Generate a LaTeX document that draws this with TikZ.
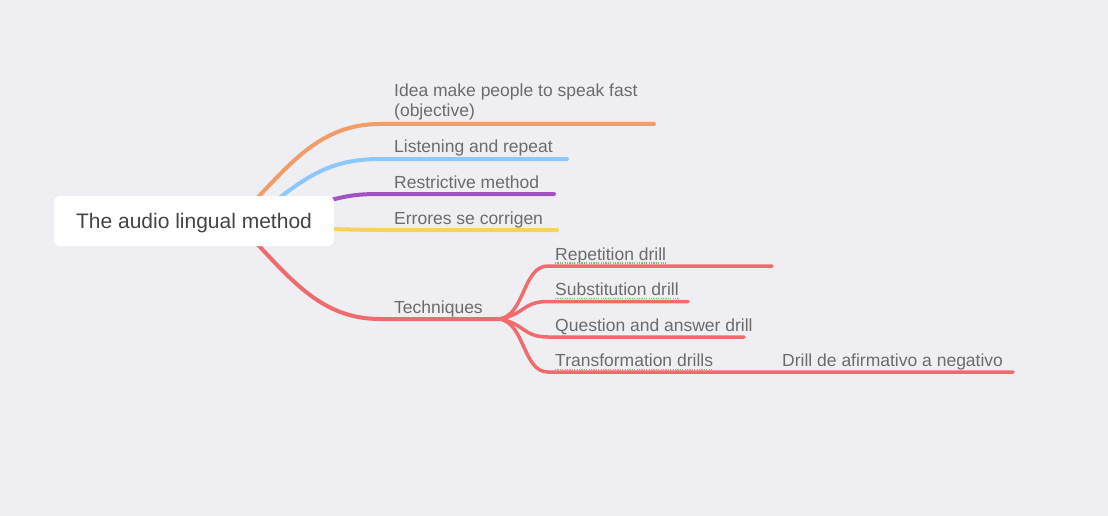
\documentclass[tikz,border=0pt]{standalone}
\usepackage{fontspec}
\setmainfont{Liberation Sans}
\definecolor{paper}{HTML}{EEEEF3}
\definecolor{rootgrey}{HTML}{444444}
\definecolor{labelgrey}{HTML}{6C6C6C}
\definecolor{orangeline}{HTML}{F19D68}
\definecolor{blueline}{HTML}{8CC8FA}
\definecolor{purpleline}{HTML}{A352C2}
\definecolor{yellowline}{HTML}{F8D15E}
\definecolor{redline}{HTML}{EE6B6E}
\definecolor{spellgreen}{HTML}{6FC46F}
\pgfdeclarelayer{paperlayer}
\pgfdeclarelayer{branchlayer}
\pgfsetlayers{paperlayer,branchlayer,main}
\begin{document}
\begin{tikzpicture}[x=1pt, y=-1pt,
  root/.style={fill=white, rounded corners=6pt, inner sep=0pt, minimum width=280pt,
    text height=32pt, text depth=18pt, anchor=base,
    text=rootgrey, font=\fontsize{21}{25}\selectfont},
  topic/.style={anchor=base west, inner sep=0pt, text=labelgrey, align=left,
    font=\fontsize{17.5}{20}\selectfont},
  branch/.style={line width=4pt, line cap=round},
  twig/.style={line width=3.5pt, line cap=round, draw=redline},
  spell/.style={draw=spellgreen, line width=1.4pt, dash pattern=on 1.2pt off 1.2pt}]
  \begin{pgfonlayer}{paperlayer}
    \fill[paper] (0,0) rectangle (1108,516);
  \end{pgfonlayer}

  \node[root] (root) at (194,228) {The audio lingual method};

  \node[topic] (idea) at (394,117) {Idea make people to speak fast\\(objective)};
  \node[topic] (listen) at (394,153) {Listening and repeat};
  \node[topic] (restrict) at (394,188.5) {Restrictive method};
  \node[topic] (errors) at (394,224) {Errores se corrigen};
  \node[topic] (tech) at (394,313) {Techniques};
  \node[topic] (rep) at (555,260) {Repetition drill};
  \node[topic] (subst) at (555,295.5) {Substitution drill};
  \node[topic] (quest) at (555,331) {Question and answer drill};
  \node[topic] (trans) at (555,366.5) {Transformation drills};
  \node[topic] (neg) at (782,366.5) {Drill de afirmativo a negativo};

  \coordinate (idea-a) at (380,124);     \coordinate (idea-b) at (654,124);
  \coordinate (listen-a) at (380,159);   \coordinate (listen-b) at (567,159);
  \coordinate (restrict-a) at (380,194); \coordinate (restrict-b) at (554,194);
  \coordinate (errors-a) at (380,230);   \coordinate (errors-b) at (557,230);
  \coordinate (tech-a) at (380,319);     \coordinate (tech-b) at (500,319);
  \coordinate (rep-a) at (548,266);      \coordinate (rep-b) at (772,266);
  \coordinate (subst-a) at (548,301.5);  \coordinate (subst-b) at (688,301.5);
  \coordinate (quest-a) at (548,337);    \coordinate (quest-b) at (744,337);
  \coordinate (trans-a) at (548,372);    \coordinate (trans-b) at (718,372);
  \coordinate (neg-b) at (1013,372);

  \begin{pgfonlayer}{branchlayer}
    \draw[branch, draw=orangeline] ([shift={(51,-10)}]root.center)
      .. controls +(45,-47) and +(-60,0) .. (idea-a) -- (idea-b);
    \draw[branch, draw=blueline] ([shift={(68,-10)}]root.center)
      .. controls +(40,-30) and +(-55,0) .. (listen-a) -- (listen-b);
    \draw[branch, draw=purpleline] ([shift={(126,-18)}]root.center)
      .. controls +(25,-7) and +(-25,0) .. (restrict-a) -- (restrict-b);
    \draw[branch, draw=yellowline] ([shift={(126,8)}]root.center)
      .. controls +(25,0) and +(-25,0) .. (errors-a) -- (errors-b);
    \draw[branch, draw=redline] ([shift={(51,10)}]root.center)
      .. controls +(45,47) and +(-60,0) .. (tech-a) -- (tech-b);
    \draw[twig] (tech-b) .. controls +(25,-5) and +(-25,0) .. (rep-a) -- (rep-b);
    \draw[twig] (tech-b) .. controls +(25,-5) and +(-25,0) .. (subst-a) -- (subst-b);
    \draw[twig] (tech-b) .. controls +(25,5) and +(-25,0) .. (quest-a) -- (quest-b);
    \draw[twig] (tech-b) .. controls +(25,5) and +(-25,0) .. (trans-a) -- (trans-b) -- (neg-b);
  \end{pgfonlayer}

  \draw[spell] ([yshift=-3pt]rep.base west) -- ([yshift=-3pt]rep.base east);
  \draw[spell] ([yshift=-3pt]subst.base west) -- ([yshift=-3pt]subst.base east);
  \draw[spell] ([yshift=-3pt]trans.base west) -- ([yshift=-3pt]trans.base east);
\end{tikzpicture}
\end{document}
